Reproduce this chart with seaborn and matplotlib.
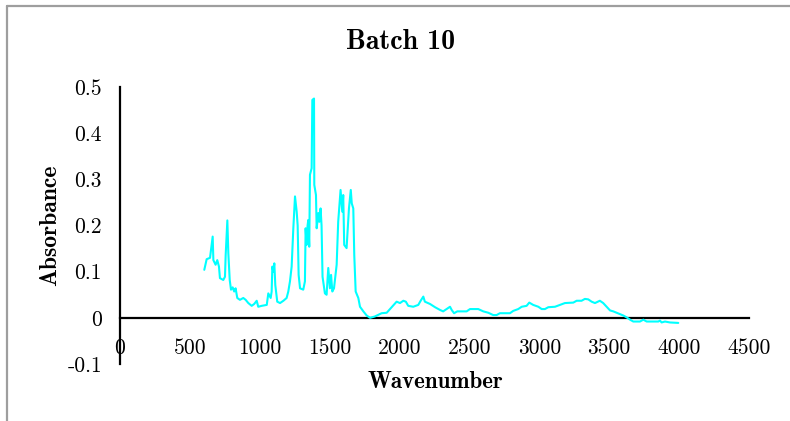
import matplotlib
matplotlib.use("Agg")
import matplotlib.pyplot as plt
import seaborn as sns
import pandas as pd
from matplotlib.lines import Line2D
from matplotlib.ticker import FixedLocator, FixedFormatter

wavenumber = [603, 620, 644, 663, 668, 684, 696, 708, 715, 739, 751, 756, 768, 775,
              785, 794, 806, 817, 827, 839, 858, 882, 899, 918, 942, 960, 978, 989,
              1014, 1050, 1061, 1078, 1085, 1090, 1097, 1104, 1111, 1125, 1145, 1169,
              1192, 1204, 1216, 1228, 1240, 1252, 1264, 1271, 1278, 1288, 1311, 1323,
              1328, 1335, 1342, 1347, 1354, 1359, 1371, 1376, 1388, 1390, 1402, 1407,
              1419, 1426, 1435, 1442, 1449, 1466, 1478, 1490, 1502, 1510, 1519, 1531,
              1550, 1561, 1578, 1590, 1597, 1604, 1621, 1638, 1651, 1658, 1669, 1676,
              1686, 1705, 1717, 1741, 1765, 1789, 1800, 1824, 1872, 1908, 1943, 1979,
              2003, 2027, 2045, 2062, 2098, 2134, 2151, 2170, 2181, 2218, 2254, 2290,
              2312, 2337, 2361, 2373, 2390, 2413, 2480, 2504, 2563, 2599, 2635, 2670,
              2694, 2718, 2790, 2813, 2849, 2874, 2909, 2928, 2956, 2993, 3017, 3040,
              3064, 3112, 3148, 3183, 3243, 3267, 3302, 3326, 3350, 3374, 3398, 3433,
              3457, 3482, 3506, 3529, 3553, 3577, 3601, 3625, 3649, 3672, 3720, 3744,
              3768, 3851, 3863, 3875, 3899, 3934, 3994]
absorbance = [0.104, 0.127, 0.130, 0.176, 0.125, 0.115, 0.125, 0.111, 0.086, 0.082,
              0.089, 0.136, 0.211, 0.140, 0.082, 0.061, 0.066, 0.057, 0.064, 0.043,
              0.039, 0.043, 0.039, 0.032, 0.026, 0.030, 0.037, 0.024, 0.026, 0.028,
              0.053, 0.043, 0.057, 0.111, 0.100, 0.118, 0.071, 0.035, 0.032, 0.037,
              0.043, 0.057, 0.079, 0.111, 0.194, 0.263, 0.230, 0.200, 0.093, 0.064,
              0.061, 0.079, 0.194, 0.158, 0.200, 0.212, 0.154, 0.310, 0.324, 0.472,
              0.475, 0.288, 0.266, 0.194, 0.227, 0.208, 0.237, 0.200, 0.089, 0.053,
              0.050, 0.108, 0.064, 0.093, 0.057, 0.064, 0.115, 0.208, 0.277, 0.230,
              0.266, 0.158, 0.151, 0.237, 0.277, 0.248, 0.237, 0.136, 0.057, 0.043,
              0.024, 0.014, 0.005, 0.000, 0.001, 0.003, 0.010, 0.011, 0.023, 0.035,
              0.032, 0.037, 0.035, 0.026, 0.024, 0.028, 0.037, 0.046, 0.035, 0.030,
              0.023, 0.017, 0.014, 0.019, 0.024, 0.017, 0.010, 0.014, 0.014, 0.019,
              0.019, 0.014, 0.011, 0.006, 0.006, 0.010, 0.010, 0.015, 0.019, 0.024,
              0.026, 0.033, 0.028, 0.024, 0.019, 0.019, 0.023, 0.024, 0.028, 0.032,
              0.033, 0.037, 0.037, 0.041, 0.040, 0.035, 0.032, 0.037, 0.032, 0.024,
              0.016, 0.014, 0.011, 0.008, 0.005, 0.001, -0.004, -0.008, -0.008, -0.004,
              -0.008, -0.008, -0.006, -0.010, -0.008, -0.010, -0.011]

x_ticks = [0, 500, 1000, 1500, 2000, 2500, 3000, 3500, 4000, 4500]
x_tick_labels = ["0", "500", "1000", "1500", "2000", "2500", "3000", "3500", "4000", "4500"]
y_ticks = [-0.1, 0, 0.1, 0.2, 0.3, 0.4, 0.5]
y_tick_labels = ["-0.1", "0", "0.1", "0.2", "0.3", "0.4", "0.5"]

title = "Batch 10"
x_label = "Wavenumber"
y_label = "Absorbance"

sns.set_style("white")
plt.rcParams["axes.unicode_minus"] = False
plt.rcParams["font.family"] = ["cmr10", "DejaVu Serif"]
plt.rcParams["text.color"] = "black"
plt.rcParams["xtick.color"] = "black"
plt.rcParams["ytick.color"] = "black"
plt.rcParams["axes.labelcolor"] = "black"

df = pd.DataFrame({"Wavenumber": wavenumber, "Absorbance": absorbance})

W, H = 790, 421
fig = plt.figure(figsize=(7.9, 4.21), dpi=100)
ax = fig.add_axes([120 / W, 1 - 364 / H, (749 - 120) / W, (364 - 87) / H])

sns.lineplot(data=df, x="Wavenumber", y="Absorbance", ax=ax, color="#00FFFF",
             linewidth=1.5, sort=False, estimator=None)

ax.set_xlim(0, 4500)
ax.set_ylim(-0.1, 0.5)
ax.set_xlabel("")
ax.set_ylabel("")

ax.spines["top"].set_visible(False)
ax.spines["right"].set_visible(False)
ax.spines["bottom"].set_position(("data", 0))
ax.spines["left"].set_position(("data", 0))
for s in ("bottom", "left"):
    ax.spines[s].set_color("black")
    ax.spines[s].set_linewidth(1.6)
    ax.spines[s].set_zorder(1)

ax.xaxis.set_major_locator(FixedLocator(x_ticks))
ax.xaxis.set_major_formatter(FixedFormatter(x_tick_labels))
ax.yaxis.set_major_locator(FixedLocator(y_ticks))
ax.yaxis.set_major_formatter(FixedFormatter(y_tick_labels))
ax.tick_params(axis="both", length=0, labelsize=15.5, colors="black")
ax.tick_params(axis="x", pad=15)
ax.tick_params(axis="y", pad=13)
ax.grid(False)
ax.patch.set_alpha(0)

fig.text(401 / W, 1 - 42 / H, title, ha="center", va="center", color="black",
         family=["cmb10", "DejaVu Serif"], fontsize=20)
fig.text(435 / W, 1 - 382 / H, x_label, ha="center", va="center", color="black",
         family=["cmb10", "DejaVu Serif"], fontsize=16.6)
fig.text(50 / W, 1 - 225 / H, y_label, ha="center", va="center", rotation=90,
         color="black", family=["cmb10", "DejaVu Serif"], fontsize=17)

# outer chart border (gray, only left and top visible)
fig.add_artist(Line2D([6.5 / W, 6.5 / W], [0, 1 - 6 / H], color="#9e9e9e",
                      linewidth=1.6, transform=fig.transFigure))
fig.add_artist(Line2D([6.5 / W, 1], [1 - 6 / H, 1 - 6 / H], color="#9e9e9e",
                      linewidth=1.6, transform=fig.transFigure))

fig.savefig("out.png", dpi=100)
